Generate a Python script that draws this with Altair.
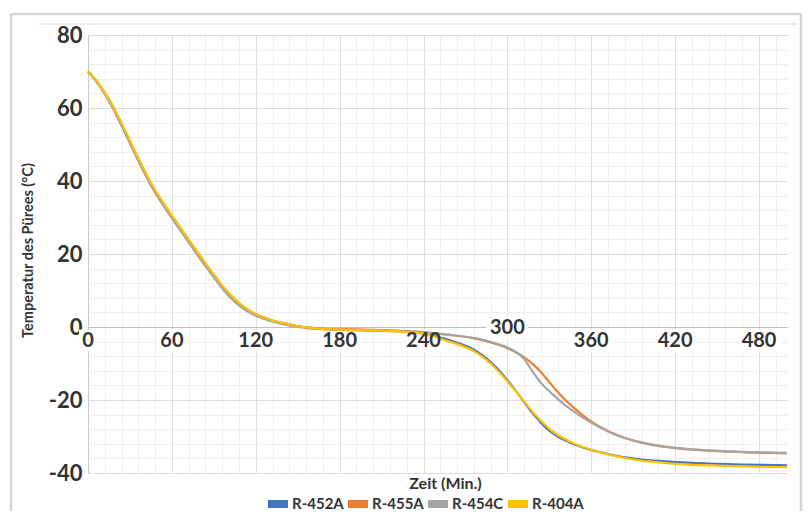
import altair as alt
import pandas as pd

series_names = ["R-452A", "R-455A", "R-454C", "R-404A"]
series_colors = ["#4472C4", "#ED7D31", "#A5A5A5", "#FFC000"]

times = [0, 6, 12, 18, 24, 30, 36, 42, 48, 54,
         60, 66, 72, 78, 84, 90, 96, 102, 108, 114,
         120, 126, 132, 138, 144, 150, 156, 168, 180, 204,
         228, 240, 252, 264, 276, 282, 288, 294, 300, 306,
         312, 318, 324, 330, 336, 342, 348, 354, 360, 372,
         384, 396, 408, 420, 444, 468, 500]

r452a = [70.0, 67.3, 64.0, 60.0, 55.4, 50.6, 45.8, 41.2, 37.1, 33.5,
         30.1, 26.8, 23.5, 20.2, 17.0, 13.9, 10.9, 8.3, 6.1, 4.5,
         3.3, 2.4, 1.7, 1.1, 0.6, 0.2, -0.1, -0.5, -0.7, -0.9,
         -1.3, -1.7, -2.9, -4.3, -6.2, -7.7, -9.6, -11.9, -14.6, -17.5,
         -20.6, -23.6, -26.2, -28.4, -30.0, -31.2, -32.2, -33.0, -33.7, -34.8,
         -35.7, -36.3, -36.7, -37.0, -37.4, -37.7, -37.9]

r455a = [70.0, 67.4, 64.2, 60.2, 55.6, 50.8, 46.0, 41.4, 37.3, 33.7,
         30.3, 27.0, 23.7, 20.4, 17.2, 14.1, 11.1, 8.5, 6.3, 4.7,
         3.5, 2.6, 1.8, 1.2, 0.7, 0.2, -0.1, -0.5, -0.6, -0.8,
         -1.1, -1.4, -1.9, -2.4, -3.1, -3.6, -4.2, -4.9, -5.8, -6.9,
         -8.3, -10.1, -12.4, -15.1, -17.8, -20.2, -22.3, -24.2, -25.9, -28.5,
         -30.4, -31.7, -32.6, -33.2, -33.9, -34.3, -34.6]

r454c = [70.0, 67.2, 63.8, 59.7, 55.1, 50.3, 45.5, 40.9, 36.8, 33.2,
         29.8, 26.5, 23.2, 19.9, 16.7, 13.6, 10.6, 8.0, 5.9, 4.3,
         3.1, 2.2, 1.5, 0.9, 0.4, 0.0, -0.3, -0.6, -0.8, -1.0,
         -1.2, -1.5, -1.9, -2.4, -3.0, -3.5, -4.1, -4.8, -5.6, -6.8,
         -8.8, -12.2, -15.3, -17.6, -19.7, -21.6, -23.3, -24.8, -26.2, -28.6,
         -30.4, -31.6, -32.5, -33.1, -33.8, -34.2, -34.5]

r404a = [70.0, 67.4, 64.2, 60.4, 55.9, 51.1, 46.3, 41.7, 37.6, 34.0,
         30.6, 27.3, 24.0, 20.7, 17.5, 14.4, 11.4, 8.8, 6.6, 4.9,
         3.6, 2.6, 1.8, 1.2, 0.7, 0.2, -0.1, -0.5, -0.7, -0.9,
         -1.4, -1.9, -3.2, -4.7, -6.6, -8.1, -10.0, -12.3, -14.9, -17.6,
         -20.4, -23.2, -25.7, -27.9, -29.6, -30.9, -32.0, -32.9, -33.6, -34.9,
         -35.9, -36.6, -37.1, -37.5, -37.9, -38.2, -38.4]

x_tick_values = [0, 60, 120, 180, 240, 300, 360, 420, 480]
x_tick_labels = ["0", "60", "120", "180", "240", "300", "360", "420", "480"]

rows = []
for name, vals in zip(series_names, [r452a, r455a, r454c, r404a]):
    for t, v in zip(times, vals):
        rows.append({"t": t, "temp": v, "series": name})
df = pd.DataFrame(rows)

xlab_df = pd.DataFrame({"t": x_tick_values, "label": x_tick_labels})

FONT = "Lato"
TXT = "#333333"
W, H = 699, 438
PX_PER_MIN = W / 500.0

x_scale = alt.Scale(domain=[0, 500], nice=False, zero=False)
y_scale = alt.Scale(domain=[-40, 80], nice=False, zero=False)

x_grid_color = {"condition": [{"test": "datum.value === 0", "value": "#c8c8c8"},
                              {"test": "datum.value % 60 === 0", "value": "#dcdcdc"}],
                "value": "#f0f0f0"}
y_grid_color = {"condition": [{"test": "datum.value === 0", "value": "#c0c0c0"},
                              {"test": "datum.value % 20 === 0", "value": "#dcdcdc"}],
                "value": "#f0f0f0"}

x_axis = alt.Axis(values=list(range(0, 500, 12)), grid=True, gridColor=x_grid_color,
                  gridWidth=1, labels=False, ticks=False, domain=False,
                  title="Zeit (Min.)", titleFont=FONT, titleFontSize=16,
                  titleFontWeight="bold", titleColor=TXT, titleX=357, titleY=10,
                  titleBaseline="middle", titleAlign="center")
y_axis = alt.Axis(values=list(range(-40, 81, 4)), grid=True, gridColor=y_grid_color,
                  gridWidth=1, ticks=False, domain=False, labelOverlap=False,
                  labelExpr="datum.value % 20 === 0 ? replace(datum.label, '\u2212', '-') : ''",
                  labelFont=FONT, labelFontSize=22, labelFontWeight="bold",
                  labelColor=TXT, labelPadding=6,
                  title="Temperatur des Pürees (°C)", titleFont=FONT,
                  titleFontSize=14.5, titleFontWeight="bold", titleColor=TXT,
                  titleX=-60, titleY=215, titleAlign="center",
                  titleBaseline="middle", titleAngle=270)

lines = alt.Chart(df).mark_line(interpolate="monotone", strokeWidth=2.2).encode(
    x=alt.X("t:Q", scale=x_scale, axis=x_axis),
    y=alt.Y("temp:Q", scale=y_scale, axis=y_axis),
    color=alt.Color("series:N", sort=series_names,
                    scale=alt.Scale(domain=series_names, range=series_colors),
                    legend=alt.Legend(title=None, orient="none", legendX=176, legendY=455,
                                      direction="horizontal", symbolType="stroke",
                                      symbolStrokeWidth=8, symbolSize=400,
                                      labelFont=FONT, labelFontSize=15,
                                      labelFontWeight="bold", labelColor=TXT,
                                      labelOffset=0, columnPadding=-14)),
)

lab_base = alt.Chart(xlab_df).transform_calculate(
    ly="datum.t === 300 ? -0.4 : -3.7"
).transform_calculate(
    half="(length(datum.label) * 12 + 6) / 2 / %f" % PX_PER_MIN
).transform_calculate(
    lo="datum.t - datum.half", hi="datum.t + datum.half",
    ytop="datum.ly + 3.0", ybot="datum.ly - 3.0"
)

boxes = lab_base.mark_rect(color="white").encode(
    x=alt.X("lo:Q", scale=x_scale, axis=x_axis),
    x2="hi:Q",
    y=alt.Y("ytop:Q", scale=y_scale, axis=y_axis),
    y2="ybot:Q",
)

labels = lab_base.mark_text(font=FONT, fontSize=20, fontWeight="bold", color=TXT,
                            align="center", baseline="middle").encode(
    x=alt.X("t:Q", scale=x_scale, axis=x_axis),
    y=alt.Y("ly:Q", scale=y_scale, axis=y_axis),
    text="label:N",
)

one = alt.Data(values=[{"a": 1}])
frame_color = "#d6d6d6"
f_left = alt.Chart(one).mark_rule(color=frame_color, strokeWidth=2.5).encode(
    x=alt.value(-77), y=alt.value(-21), y2=alt.value(476))
f_top = alt.Chart(one).mark_rule(color=frame_color, strokeWidth=2.5).encode(
    x=alt.value(-77), x2=alt.value(713), y=alt.value(-21))
f_right = alt.Chart(one).mark_rule(color=frame_color, strokeWidth=2.5).encode(
    x=alt.value(713), y=alt.value(-21), y2=alt.value(476))
f_inner = alt.Chart(one).mark_rule(color="#e6e6e6", strokeWidth=1.5).encode(
    x=alt.value(-49), x2=alt.value(709), y=alt.value(-11))

chart = alt.layer(boxes, lines, labels, f_left, f_top, f_right, f_inner).properties(
    width=W, height=H,
    autosize=alt.AutoSizeParams(type="none"),
    padding={"left": 80, "top": 27, "right": 16, "bottom": 38},
    background="white",
).configure_view(strokeWidth=0)

chart.save("out.html", embed_options={"renderer": "svg", "actions": False})
